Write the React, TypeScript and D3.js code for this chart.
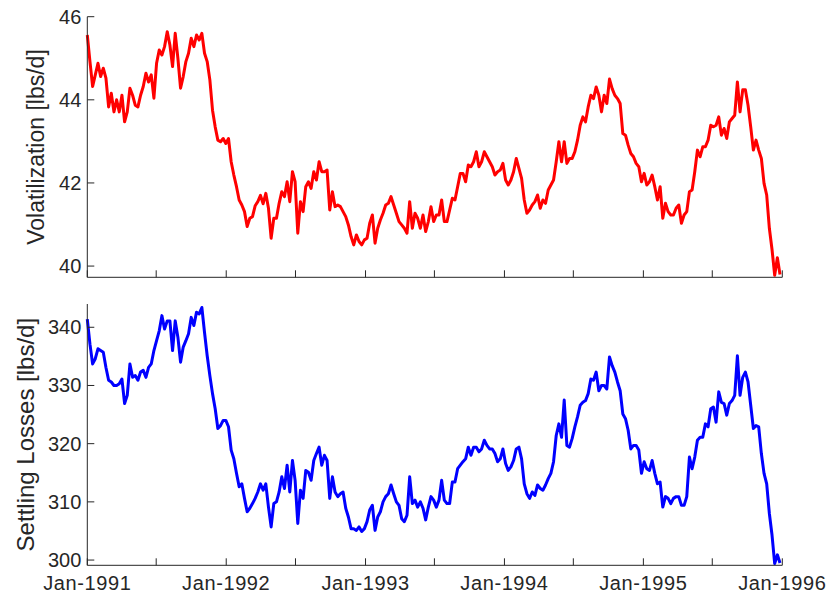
import React from "react";
import * as d3 from "d3";

// Weekly samples starting 1991-01-01
const startDate = new Date(1991, 0, 1);
const endDate = new Date(1996, 0, 1);

const volatilization: number[] = [
  45.56, 44.92, 44.32, 44.6, 44.88, 44.56, 44.76, 44.52, 43.83, 44.16,
  43.71, 44.0, 43.71, 44.11, 43.47, 43.71, 44.28, 44.11, 43.87, 43.83,
  44.11, 44.32, 44.64, 44.43, 44.6, 44.04, 44.88, 45.2, 45.08, 45.28,
  45.64, 45.32, 44.8, 45.6, 45.0, 44.28, 44.56, 44.92, 45.12, 45.48,
  45.28, 45.56, 45.44, 45.6, 45.12, 44.92, 44.48, 43.75, 43.35, 43.03,
  42.99, 43.07, 42.95, 43.07, 42.51, 42.19, 41.91, 41.59, 41.47, 41.31,
  40.95, 41.15, 41.19, 41.45, 41.55, 41.7, 41.5, 41.75, 41.39, 40.67,
  41.15, 41.15, 41.51, 41.79, 41.67, 42.03, 41.55, 42.27, 42.03, 40.79,
  41.55, 41.31, 41.91, 42.03, 41.87, 42.27, 42.07, 42.51, 42.27, 42.27,
  42.31, 41.35, 41.79, 41.43, 41.47, 41.43, 41.31, 41.19, 40.99, 40.71,
  40.51, 40.75, 40.59, 40.51, 40.63, 40.67, 41.03, 41.23, 40.55, 40.91,
  41.11, 41.27, 41.47, 41.51, 41.67, 41.47, 41.27, 41.07, 40.99, 40.91,
  40.79, 41.55, 40.91, 41.27, 41.15, 40.91, 41.23, 40.83, 41.07, 41.43,
  41.07, 41.23, 41.23, 41.59, 41.07, 41.07, 41.35, 41.63, 41.59, 41.91,
  42.23, 42.23, 42.03, 42.43, 42.39, 42.51, 42.75, 42.39, 42.51, 42.75,
  42.63, 42.51, 42.39, 42.19, 42.27, 42.31, 42.47, 42.07, 41.95, 42.07,
  42.27, 42.59, 42.35, 42.11, 41.59, 41.27, 41.35, 41.47, 41.55, 41.71,
  41.39, 41.59, 41.51, 41.83, 41.95, 42.07, 42.51, 42.99, 42.51, 42.99,
  42.47, 42.59, 42.59, 42.75, 43.03, 43.39, 43.59, 43.47, 43.83, 44.11,
  44.03, 44.31, 44.11, 43.71, 44.11, 43.91, 44.5, 44.27, 44.11, 44.03,
  43.91, 43.19, 43.15, 42.91, 42.71, 42.63, 42.47, 42.39, 42.03, 42.23,
  41.95, 42.03, 42.19, 41.91, 41.59, 41.91, 41.15, 41.51, 41.31, 41.23,
  41.23, 41.39, 41.47, 41.03, 41.23, 41.31, 41.79, 41.83, 42.27, 42.79,
  42.63, 42.87, 42.87, 43.03, 43.39, 43.35, 43.39, 43.59, 43.15, 43.31,
  43.07, 43.47, 43.55, 43.63, 44.43, 43.71, 44.24, 44.24, 43.87, 43.35,
  42.79, 43.03, 42.79, 42.59, 41.99, 41.71, 40.91, 40.4, 39.78, 40.2, 39.8,
];

const settling: number[] = [
  341.4, 337.1, 333.7, 334.6, 336.3, 336.0, 335.7, 333.1, 330.9, 330.6,
  330.0, 330.0, 330.3, 331.1, 326.9, 328.3, 333.7, 331.4, 331.7, 330.9,
  332.3, 332.6, 331.4, 333.1, 333.7, 336.0, 337.7, 339.4, 342.0, 339.7,
  341.1, 341.1, 336.0, 341.1, 338.3, 334.0, 336.6, 337.7, 338.9, 341.7,
  340.3, 342.6, 342.3, 343.4, 339.1, 335.1, 331.7, 328.6, 326.0, 322.6,
  323.1, 324.0, 324.0, 322.9, 318.9, 317.4, 314.9, 312.6, 313.1, 310.6,
  308.3, 308.9, 309.7, 310.6, 311.7, 313.1, 312.0, 313.1, 309.1, 305.7,
  309.7, 310.0, 311.7, 314.3, 312.3, 316.3, 311.7, 317.1, 313.7, 306.3,
  312.0, 310.6, 315.4, 315.1, 313.7, 317.1, 318.3, 319.4, 316.3, 318.0,
  317.1, 310.6, 314.3, 311.7, 310.9, 311.4, 311.7, 308.9, 307.4, 305.4,
  305.4, 305.1, 305.7, 304.9, 305.4, 306.6, 308.6, 309.4, 305.1, 307.4,
  308.3, 310.0, 310.9, 311.4, 312.9, 311.4, 310.0, 309.4, 307.1, 306.6,
  307.7, 314.3, 309.7, 310.3, 309.1, 310.0, 308.9, 306.9, 309.1, 310.9,
  310.3, 309.1, 310.3, 313.7, 310.3, 309.7, 309.7, 313.4, 313.4, 315.7,
  316.3, 316.9, 317.4, 319.4, 318.0, 319.4, 319.4, 318.6, 319.1, 320.6,
  319.7, 319.1, 319.1, 318.3, 316.9, 317.4, 319.1, 316.6, 315.4, 316.0,
  317.1, 319.1, 319.4, 317.4, 313.1, 311.4, 310.6, 311.7, 311.1, 312.9,
  312.3, 312.0, 312.9, 314.0, 314.9, 316.9, 321.4, 323.4, 321.1, 327.5,
  319.7, 319.4, 320.9, 322.9, 324.6, 326.6, 327.1, 327.4, 328.6, 331.1,
  330.9, 332.3, 329.1, 330.0, 330.0, 329.4, 334.9, 333.4, 332.3, 330.6,
  329.1, 325.1, 324.3, 322.3, 319.1, 319.7, 319.7, 318.9, 314.9, 316.9,
  315.7, 315.4, 317.1, 314.9, 313.1, 313.4, 309.1, 310.9, 310.6, 309.7,
  310.6, 310.9, 310.9, 309.4, 309.4, 310.9, 317.7, 315.7, 317.7, 320.6,
  321.1, 321.1, 323.4, 322.9, 326.0, 326.3, 323.7, 328.9, 327.1, 326.9,
  324.9, 326.9, 327.4, 328.3, 335.1, 328.3, 331.4, 332.3, 330.6, 326.6,
  322.6, 323.1, 322.9, 318.3, 314.9, 313.1, 308.0, 304.3, 299.4, 300.9, 299.5,
];

const topTicks = [40, 42, 44, 46];
const bottomTicks = [300, 310, 320, 330, 340];
const topDomain: [number, number] = [39.73, 46];
const bottomDomain: [number, number] = [299.1, 344];
const topLabel = "Volatilization [lbs/d]";
const bottomLabel = "Settling Losses [lbs/d]";

const W = 831;
const H = 598;
const L = 87.3;
const R = 782.3;
const FONT = "'Liberation Sans', Arial, Helvetica, sans-serif";
const AX = "#262626";
const TICK_LEN = 7;

type PanelProps = {
  values: number[];
  domain: [number, number];
  ticks: number[];
  top: number;
  bottom: number;
  color: string;
  label: string;
  labelX: number;
  labelSize: number;
  showXLabels: boolean;
};

const x = d3.scaleTime().domain([startDate, endDate]).range([L, R]);
const dates = volatilization.map((_, i) => d3.timeDay.offset(startDate, i * 7));
const xTicks = d3.timeMonth.every(6)!.range(startDate, d3.timeDay.offset(endDate, 1));
const fmt = d3.timeFormat("%b-%Y");

function Panel(p: PanelProps) {
  const y = d3.scaleLinear().domain(p.domain).range([p.bottom, p.top]);
  const line = d3
    .line<number>()
    .x((_, i) => x(dates[i]))
    .y((d) => y(d));
  return (
    <g>
      <path d={line(p.values) || ""} fill="none" stroke={p.color} strokeWidth={3} strokeLinejoin="round" />
      <line x1={L} x2={L} y1={p.top} y2={p.bottom} stroke={AX} strokeWidth={1} />
      <line x1={L} x2={R} y1={p.bottom} y2={p.bottom} stroke={AX} strokeWidth={1} />
      {p.ticks.map((t) => (
        <g key={t}>
          <line x1={L} x2={L + TICK_LEN} y1={y(t)} y2={y(t)} stroke={AX} strokeWidth={1} />
          <text x={L - 6} y={y(t)} dy="0.35em" textAnchor="end" fontSize={20} fill={AX} fontFamily={FONT}>
            {t}
          </text>
        </g>
      ))}
      {xTicks.map((d, i) => (
        <g key={i}>
          <line x1={x(d)} x2={x(d)} y1={p.bottom} y2={p.bottom - TICK_LEN} stroke={AX} strokeWidth={1} />
          {p.showXLabels && d.getMonth() === 0 ? (
            <text
              x={x(d)}
              y={p.bottom + 24.5}
              textAnchor="middle"
              fontSize={20}
              letterSpacing={0.6}
              fill={AX}
              fontFamily={FONT}
            >
              {fmt(d)}
            </text>
          ) : null}
        </g>
      ))}
      <text
        transform={`translate(${p.labelX},${(p.top + p.bottom) / 2}) rotate(-90)`}
        textAnchor="middle"
        fontSize={p.labelSize}
        fill={AX}
        fontFamily={FONT}
      >
        {p.label}
      </text>
    </g>
  );
}

export default function App() {
  return (
    <svg
      width={W}
      height={H}
      style={{ position: "absolute", left: 0, top: 0, background: "#fff" }}
    >
      <rect x={0} y={0} width={W} height={H} fill="#fff" />
      <Panel
        values={volatilization}
        domain={topDomain}
        ticks={topTicks}
        top={16.7}
        bottom={277.3}
        color="#ff0000"
        label={topLabel}
        labelX={44}
        labelSize={23}
        showXLabels={false}
      />
      <Panel
        values={settling}
        domain={bottomDomain}
        ticks={bottomTicks}
        top={304}
        bottom={565.3}
        color="#0000ff"
        label={bottomLabel}
        labelX={33.5}
        labelSize={24}
        showXLabels={true}
      />
    </svg>
  );
}
